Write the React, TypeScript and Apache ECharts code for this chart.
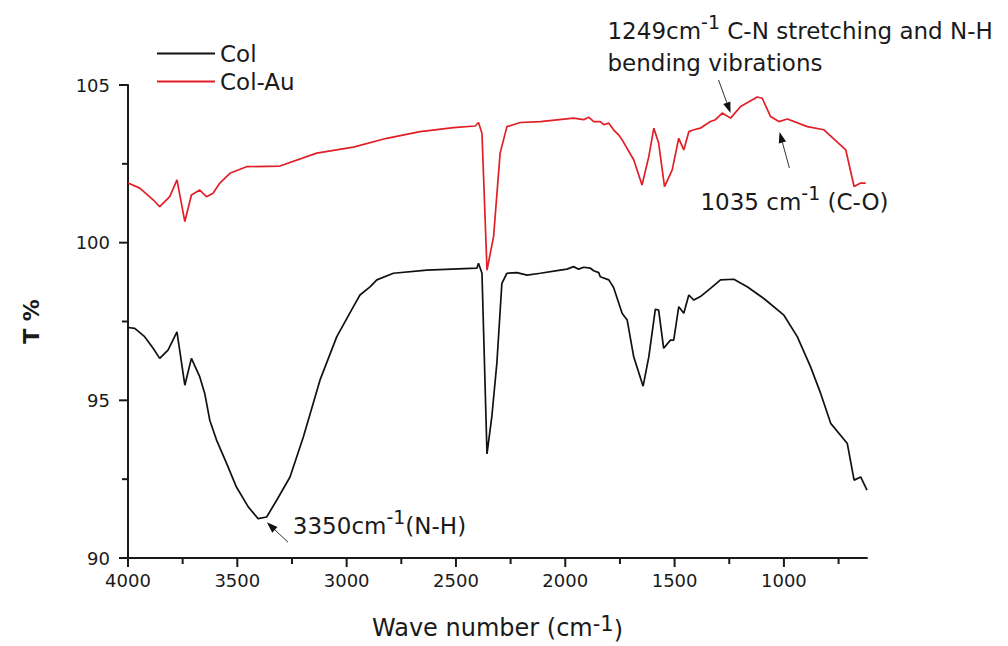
import React, { useEffect, useRef } from "react";
import * as echarts from "echarts";

const FONT = "DejaVu Sans";

const xMajorTicks = [4000, 3500, 3000, 2500, 2000, 1500, 1000];
const xMinorTicks = [3750, 3250, 2750, 2250, 1750, 1250, 750];
const yMajorTicks = [90, 95, 100, 105];
const yMinorTicks = [92.5, 97.5, 102.5];

const seriesNames = ["Col", "Col-Au"];

// [wave number (cm-1), T %]
const colSpectrum: [number, number][] = [
  [4000, 97.31], [3969, 97.28], [3924, 97.02], [3885, 96.65], [3855, 96.33],
  [3817, 96.59], [3776, 97.17], [3740, 95.48], [3710, 96.33], [3672, 95.75],
  [3649, 95.22], [3626, 94.37], [3595, 93.74], [3549, 93.0], [3504, 92.25],
  [3450, 91.62], [3405, 91.25], [3366, 91.3], [3320, 91.83], [3259, 92.57],
  [3198, 93.84], [3122, 95.64], [3045, 97.02], [2969, 97.97], [2939, 98.34],
  [2893, 98.6], [2862, 98.82], [2786, 99.03], [2633, 99.13], [2404, 99.19],
  [2397, 99.35], [2381, 99.03], [2358, 93.3], [2336, 94.48], [2313, 96.17],
  [2290, 98.71], [2267, 99.03], [2221, 99.05], [2175, 98.97], [2114, 99.03],
  [2023, 99.13], [1992, 99.16], [1962, 99.24], [1939, 99.16], [1916, 99.22],
  [1885, 99.19], [1870, 99.11], [1847, 99.05], [1840, 98.92], [1801, 98.82],
  [1779, 98.58], [1740, 97.76], [1717, 97.55], [1687, 96.38], [1644, 95.45],
  [1618, 96.38], [1588, 97.89], [1573, 97.86], [1550, 96.65], [1519, 96.91],
  [1504, 96.91], [1481, 97.97], [1458, 97.76], [1435, 98.34], [1412, 98.18],
  [1382, 98.29], [1336, 98.55], [1290, 98.82], [1229, 98.84], [1168, 98.6],
  [1092, 98.23], [1000, 97.7], [939, 97.02], [878, 96.06], [832, 95.22],
  [786, 94.27], [710, 93.63], [679, 92.47], [649, 92.57], [620, 92.15],
];

const auSpectrum: [number, number][] = [
  [4000, 101.89], [3946, 101.73], [3885, 101.36], [3855, 101.14], [3809, 101.46],
  [3776, 101.99], [3740, 100.67], [3710, 101.51], [3672, 101.67], [3641, 101.46],
  [3611, 101.57], [3580, 101.89], [3534, 102.2], [3458, 102.41], [3305, 102.43],
  [3137, 102.84], [2969, 103.03], [2817, 103.31], [2664, 103.52], [2511, 103.65],
  [2412, 103.7], [2397, 103.81], [2381, 103.47], [2358, 99.13], [2328, 100.19],
  [2298, 102.84], [2267, 103.68], [2206, 103.81], [2114, 103.84], [1962, 103.95],
  [1916, 103.9], [1893, 103.98], [1870, 103.84], [1840, 103.84], [1824, 103.74],
  [1801, 103.79], [1779, 103.58], [1756, 103.42], [1740, 103.26], [1687, 102.63],
  [1649, 101.83], [1618, 102.73], [1595, 103.63], [1573, 103.16], [1546, 101.78],
  [1511, 102.31], [1481, 103.31], [1458, 102.94], [1435, 103.52], [1412, 103.58],
  [1382, 103.63], [1359, 103.74], [1336, 103.84], [1313, 103.9], [1282, 104.11],
  [1244, 103.95], [1198, 104.32], [1122, 104.62], [1099, 104.58], [1061, 104.0],
  [1023, 103.84], [984, 103.92], [893, 103.68], [817, 103.58], [717, 102.94],
  [679, 101.78], [649, 101.89], [626, 101.89],
];

const annotationTexts = [
  { text: "{n|1249cm}{s|-1}{n| C-N stretching and N-H}", at: [1807, 106.82] },
  { text: "{n|bending vibrations}", at: [1807, 105.8] },
  { text: "{n|1035 cm}{s|-1}{n| (C-O)}", at: [1382, 101.4] },
  { text: "{n|3350cm}{s|-1}{n|(N-H)}", at: [3246, 91.14] },
];

const annotationArrows = [
  { from: [1299, 105.16], to: [1244, 104.11] },
  { from: [975, 102.37], to: [1020, 103.51] },
  { from: [3268, 90.5], to: [3365, 91.13] },
];

const INK = "#1a1a1a";

const richText = {
  n: { fontSize: 23, fontFamily: FONT, color: INK, lineHeight: 30, verticalAlign: "bottom" },
  s: { fontSize: 19, fontFamily: FONT, color: INK, lineHeight: 30, verticalAlign: "top" },
};

export default function App() {
  const ref = useRef<HTMLDivElement>(null);

  useEffect(() => {
    const chart = echarts.init(ref.current!, null, { renderer: "svg" });
    chart.setOption({
      animation: false,
      backgroundColor: "#ffffff",
      grid: { left: 128, right: 141, top: 85, bottom: 88, containLabel: false, outerBoundsMode: "none" },
      legend: {
        data: seriesNames,
        orient: "vertical",
        left: 152,
        top: 37,
        icon: "rect",
        itemWidth: 58,
        itemHeight: 2,
        itemGap: 5,
        textStyle: { fontSize: 23, fontFamily: FONT, color: INK },
      },
      xAxis: {
        type: "value",
        min: 620,
        max: 4000,
        inverse: true,
        splitLine: { show: false },
        name: "Wave number (cm{s|-1}{n|)}",
        nameLocation: "middle",
        nameGap: 55,
        nameTextStyle: {
          fontSize: 24,
          fontFamily: FONT,
          color: INK,
          rich: {
            n: { fontSize: 24, fontFamily: FONT, color: INK, lineHeight: 29, verticalAlign: "bottom" },
            s: { fontSize: 21, fontFamily: FONT, color: INK, lineHeight: 29, verticalAlign: "top" },
          },
        },
        axisLine: { show: true, lineStyle: { color: INK, width: 2 } },
        axisTick: { show: false },
        axisLabel: {
          show: true,
          customValues: xMajorTicks,
          formatter: (v: number) => String(v),
          margin: 13,
          fontSize: 18,
          fontFamily: FONT,
          color: INK,
        },
      },
      yAxis: {
        type: "value",
        min: 90,
        max: 105,
        interval: 5,
        name: "T %",
        nameLocation: "middle",
        nameGap: 86,
        nameTextStyle: { fontSize: 22, fontWeight: "bold", fontFamily: FONT, color: INK },
        splitLine: { show: false },
        axisLine: { show: true, lineStyle: { color: INK, width: 2 } },
        axisTick: { show: false },
        axisLabel: {
          margin: 18,
          formatter: (v: number) => String(v),
          fontSize: 18,
          fontFamily: FONT,
          color: INK,
        },
      },
      series: [
        {
          name: seriesNames[0],
          type: "line",
          data: colSpectrum,
          symbol: "none",
          lineStyle: { color: "#111111", width: 1.7 },
          itemStyle: { color: "#111111" },
        },
        {
          name: seriesNames[1],
          type: "line",
          data: auSpectrum,
          symbol: "none",
          lineStyle: { color: "#e01f26", width: 1.7 },
          itemStyle: { color: "#e01f26" },
        },
      ],
    });

    const toPx = (p: number[]) =>
      chart.convertToPixel({ xAxisIndex: 0, yAxisIndex: 0 }, p) as number[];

    const graphics: any[] = [];
    const tickStyle = { stroke: INK, lineWidth: 2 };
    const [axisX, axisY] = toPx([4000, 90]);
    xMajorTicks.forEach((v) => {
      const [x] = toPx([v, 90]);
      graphics.push({ type: "line", shape: { x1: x, y1: axisY, x2: x, y2: axisY + 9 }, style: tickStyle });
    });
    xMinorTicks.forEach((v) => {
      const [x] = toPx([v, 90]);
      graphics.push({ type: "line", shape: { x1: x, y1: axisY, x2: x, y2: axisY + 6 }, style: tickStyle });
    });
    yMajorTicks.forEach((v) => {
      const [, y] = toPx([4000, v]);
      graphics.push({ type: "line", shape: { x1: axisX - 9, y1: y, x2: axisX, y2: y }, style: tickStyle });
    });
    yMinorTicks.forEach((v) => {
      const [, y] = toPx([4000, v]);
      graphics.push({ type: "line", shape: { x1: axisX - 6, y1: y, x2: axisX, y2: y }, style: tickStyle });
    });

    annotationTexts.forEach((a) => {
      const [x, y] = toPx(a.at);
      graphics.push({
        type: "text",
        x,
        y,
        z: 10,
        style: {
          text: a.text,
          rich: richText,
          align: "left",
          verticalAlign: "middle",
          fontFamily: FONT,
          fontSize: 23,
          fill: INK,
        },
      });
    });
    annotationArrows.forEach((a) => {
      const [x1, y1] = toPx(a.from);
      const [x2, y2] = toPx(a.to);
      const dx = x2 - x1;
      const dy = y2 - y1;
      const len = Math.sqrt(dx * dx + dy * dy);
      const ux = dx / len;
      const uy = dy / len;
      const hl = 11;
      const hw = 3.8;
      const bx = x2 - ux * hl;
      const by = y2 - uy * hl;
      graphics.push({
        type: "line",
        z: 10,
        shape: { x1, y1, x2: bx, y2: by },
        style: { stroke: "#333333", lineWidth: 1 },
      });
      graphics.push({
        type: "polygon",
        z: 10,
        shape: {
          points: [
            [x2, y2],
            [bx - uy * hw, by + ux * hw],
            [bx + uy * hw, by - ux * hw],
          ],
        },
        style: { fill: "#111111" },
      });
    });
    chart.setOption({ graphic: graphics });

    return () => chart.dispose();
  }, []);

  return (
    <div
      ref={ref}
      style={{ position: "fixed", left: 0, top: 0, width: 1008, height: 646, background: "#ffffff" }}
    />
  );
}
